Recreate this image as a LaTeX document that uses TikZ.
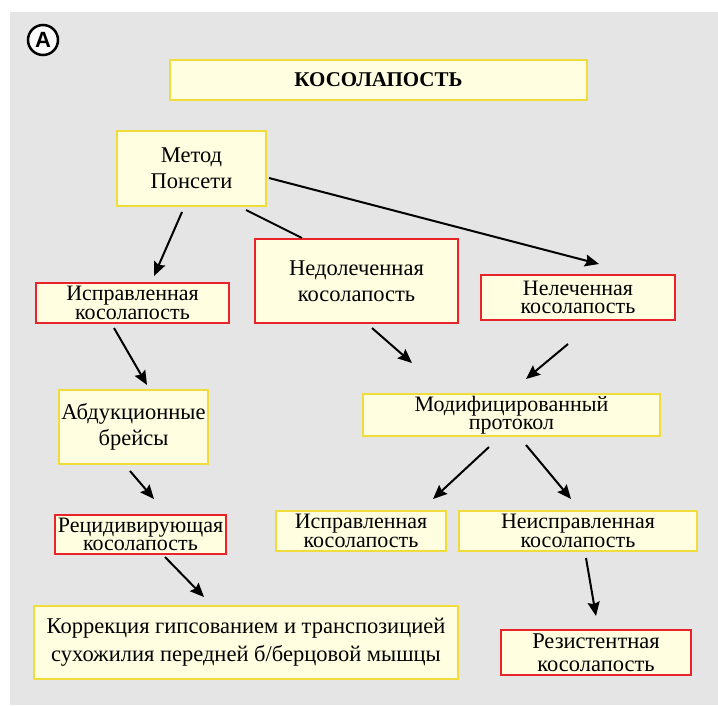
\documentclass[tikz,border=0pt]{standalone}
\usepackage{fontspec}
\setmainfont{Liberation Serif}
\newfontfamily\labfont{Liberation Sans}
\usetikzlibrary{arrows.meta}
\definecolor{bgc}{HTML}{E5E5E5}
\definecolor{boxfill}{HTML}{FFFEE0}
\definecolor{ybord}{HTML}{F0DC3A}
\definecolor{rbord}{HTML}{E8242A}
\tikzset{
  bx/.style={rectangle, fill=boxfill, line width=2pt, inner sep=0pt, align=center},
  ybox/.style={bx, draw=ybord},
  rbox/.style={bx, draw=rbord},
  tight/.style={font=\fontsize{22}{18.5}\selectfont},
  loose/.style={font=\fontsize{22.5}{26}\selectfont},
  mid/.style={font=\fontsize{22.5}{23}\selectfont},
  arr/.style={line width=2pt, -{Stealth[length=14pt,width=12pt,inset=2pt]}},
  plain/.style={line width=2pt}
}
\begin{document}
\begin{tikzpicture}[x=1pt,y=-1pt]
\useasboundingbox (0,0) rectangle (718,705);
\fill[white] (0,0) rectangle (718,705);
\fill[bgc] (10,12) rectangle (718,705);
\node[circle, draw, line width=2.5pt, fill=white!85!bgc, minimum size=30pt, inner sep=0pt,
  font=\labfont\bfseries\fontsize{22}{22}\selectfont] (lab) at (43,40) {A};

\node[ybox, minimum width=417pt, minimum height=40pt, font=\fontsize{21}{22}\selectfont\bfseries] (title) at (378.5,80) {КОСОЛАПОСТЬ};
\node[ybox, loose, minimum width=149pt, minimum height=75pt] (metod) at (191.5,168.5) {Метод\\Понсети};
\node[rbox, tight, minimum width=193pt, minimum height=40pt] (ispL) at (132.5,303) {Исправленная\\косолапость};
\node[rbox, loose, minimum width=203pt, minimum height=84pt] (nedol) at (356.5,281) {Недолеченная\\косолапость};
\node[rbox, tight, minimum width=194pt, minimum height=45pt] (nelech) at (578,297.5) {Нелеченная\\косолапость};
\node[ybox, loose, minimum width=149pt, minimum height=74pt] (abd) at (133.5,427) {Абдукционные\\брейсы};
\node[ybox, tight, minimum width=297pt, minimum height=42pt] (mod) at (511.5,415) {Модифицированный\\протокол};
\node[rbox, tight, minimum width=171pt, minimum height=39pt] (recid) at (140.5,534.5) {Рецидивирующая\\косолапость};
\node[ybox, tight, minimum width=170pt, minimum height=40pt] (ispM) at (361,531) {Исправленная\\косолапость};
\node[ybox, tight, minimum width=238pt, minimum height=40pt] (neisp) at (578,531) {Неисправленная\\косолапость};
\node[ybox, font=\fontsize{22.5}{28}\selectfont, minimum width=424pt, minimum height=73pt] (korr) at (246,642.5) {Коррекция гипсованием и транспозицией\\сухожилия передней б/берцовой мышцы};
\node[rbox, mid, minimum width=190pt, minimum height=45pt] (rez) at (596,652.5) {Резистентная\\косолапость};

\draw[arr] ([shift={(66,5)}]metod.south west) -- ([shift={(119,-6)}]ispL.north west);
\draw[plain] ([shift={(130,3)}]metod.south west) -- ([shift={(48,0)}]nedol.north west);
\draw[arr] ([shift={(2,9.5)}]metod.east) -- ([shift={(119,-10)}]nelech.north west);
\draw[arr] ([shift={(79,4)}]ispL.south west) -- ([shift={(89,-4)}]abd.north west);
\draw[arr] ([shift={(118,4)}]nedol.south west) -- ([shift={(50,-30)}]mod.north west);
\draw[arr] ([shift={(88,23)}]nelech.south west) -- ([shift={(164,-14)}]mod.north west);
\draw[arr] ([shift={(72,6)}]abd.south west) -- ([shift={(100,-15)}]recid.north west);
\draw[arr] ([shift={(127,10)}]mod.south west) -- ([shift={(158,-11)}]ispM.north west);
\draw[arr] ([shift={(164,8)}]mod.south west) -- ([shift={(113,-11)}]neisp.north west);
\draw[arr] ([shift={(111,2)}]recid.south west) -- ([shift={(171,-8)}]korr.north west);
\draw[arr] ([shift={(128,6)}]neisp.south west) -- ([shift={(96,-13)}]rez.north west);
\end{tikzpicture}
\end{document}
